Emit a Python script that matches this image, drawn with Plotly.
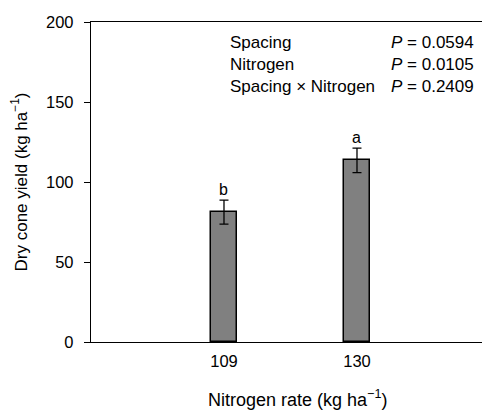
import plotly.graph_objects as go

categories = ["109", "130"]
yield_mean = [81.2, 113.5]
yield_se = [7.5, 7.7]
letters = ["b", "a"]
effects = ["Spacing", "Nitrogen", "Spacing × Nitrogen"]
p_values = ["0.0594", "0.0105", "0.2409"]
effect_y = [187.3, 173.6, 159.6]

FONT = "Liberation Sans, Arial, sans-serif"

fig = go.Figure()
fig.add_trace(go.Bar(
    x=[0, 1], y=yield_mean, width=0.2,
    marker=dict(color="#808080", line=dict(color="black", width=1.5)),
    error_y=dict(type="data", array=yield_se, color="black", thickness=1.3, width=4.5),
    showlegend=False,
))

for i, (m, s, l) in enumerate(zip(yield_mean, yield_se, letters)):
    fig.add_annotation(x=i, y=m + s, text=l, showarrow=False, yanchor="bottom",
                       yshift=0, font=dict(size=16, color="black", family=FONT))

for e, p, yy in zip(effects, p_values, effect_y):
    fig.add_annotation(xref="paper", x=(229.5 - 91) / 391, y=yy, text=e, showarrow=False,
                       xanchor="left", yanchor="middle", xshift=-2,
                       font=dict(size=17, color="black", family=FONT))
    fig.add_annotation(xref="paper", x=(390.7 - 91) / 391, y=yy, text="<i>P</i> = " + p, showarrow=False,
                       xanchor="left", yanchor="middle", xshift=-2,
                       font=dict(size=17, color="black", family=FONT))

# x-axis title (placed as annotation to match horizontal offset)
fig.add_annotation(xref="paper", yref="paper", x=(297 - 91) / 391, y=(342 - 412) / 320,
                   text="Nitrogen rate (kg ha<sup>−1</sup>)", showarrow=False, borderpad=0,
                   xanchor="center", yanchor="bottom", yshift=1,
                   font=dict(size=18, color="black", family=FONT))

fig.update_layout(
    width=482, height=412,
    margin=dict(l=91, r=0, t=22, b=70),
    plot_bgcolor="white", paper_bgcolor="white",
    font=dict(family=FONT, size=16.5, color="black"),
    bargap=0,
)
fig.update_xaxes(
    range=[-1, 1.94], tickvals=[0, 1], ticktext=categories,
    showline=True, linecolor="black", linewidth=1.3, mirror=True,
    showgrid=False, zeroline=False, ticks="",
    tickfont=dict(size=16.5), ticklabelstandoff=4,
)
fig.update_yaxes(
    range=[0, 200], tickvals=[0, 50, 100, 150, 200],
    showline=True, linecolor="black", linewidth=1.3, mirror=False,
    showgrid=False, zeroline=False, ticks="outside", ticklen=6, tickwidth=1.3, tickcolor="black",
    tickfont=dict(size=16.5), ticklabelstandoff=7,
    title=dict(text="Dry cone yield (kg ha<sup>−1</sup>)", font=dict(size=17), standoff=14),
)

fig.write_html("out.html")
